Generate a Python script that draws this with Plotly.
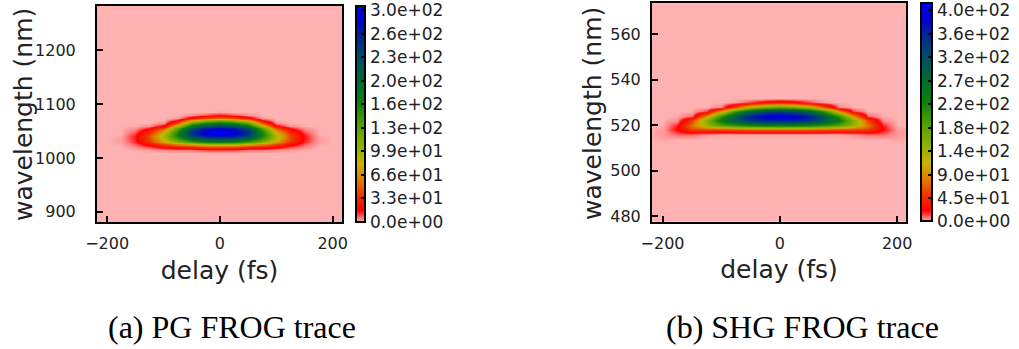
import plotly.graph_objects as go

# ---------------- data ----------------
# (a) PG FROG trace: rows = wavelength (nm), columns = delay (fs)
pg_delay = [-250, -200, -175, -150, -125, -100, -75, -50, -25, 0, 25, 50, 75, 100, 125, 150, 175, 200, 250]
pg_wavelength = [850, 1010, 1015, 1020, 1025, 1030, 1035, 1040, 1045, 1050, 1055,
                 1060, 1065, 1070, 1075, 1080, 1085, 1090, 1300]
pg_row_850 = [0] * 19
pg_row_1010 = [0] * 19
pg_row_1015 = [0, 0, 0, 0.4, 1.4, 3.2, 4.8, 4.8, 10, 10.4, 10, 4.8, 4.8, 3.2, 1.4, 0.4, 0, 0, 0]
pg_row_1020 = [0, 0, 0, 3.2, 9.4, 19, 26.5, 31, 43, 44, 43, 31, 26.5, 19, 9.4, 3.2, 0, 0, 0]
pg_row_1025 = [0, 0, 0.6, 7.7, 23, 45, 65, 80, 99, 101, 99, 80, 65, 45, 23, 7.7, 0.6, 0, 0]
pg_row_1030 = [0, 0, 1.3, 11.7, 36, 71, 108, 140, 164, 167, 164, 140, 108, 71, 36, 11.7, 1.3, 0, 0]
pg_row_1035 = [0, 0, 1.3, 13.7, 43, 89, 144, 195, 223, 228, 223, 195, 144, 89, 43, 13.7, 1.3, 0, 0]
pg_row_1040 = [0, 0, 0.8, 13.5, 44.5, 95, 164, 233, 264, 271, 264, 233, 164, 95, 44.5, 13.5, 0.8, 0, 0]
pg_row_1045 = [0, 0, 0, 11, 39, 89, 169, 252, 286, 295, 286, 252, 169, 89, 39, 11, 0, 0, 0]
pg_row_1050 = [0, 0, 0, 6.8, 28, 71, 158, 250, 286, 296, 286, 250, 158, 71, 28, 6.8, 0, 0, 0]
pg_row_1055 = [0, 0, 0, 2.4, 14, 45, 131, 226, 264, 278, 264, 226, 131, 45, 14, 2.4, 0, 0, 0]
pg_row_1060 = [0, 0, 0, 0.2, 3.3, 19, 91, 185, 223, 238, 223, 185, 91, 19, 3.3, 0.2, 0, 0, 0]
pg_row_1065 = [0, 0, 0, 0, 0, 3.2, 48, 128, 164, 180, 164, 128, 48, 3.2, 0, 0, 0, 0, 0]
pg_row_1070 = [0, 0, 0, 0, 0, 0, 15, 69, 99, 114, 99, 69, 15, 0, 0, 0, 0, 0, 0]
pg_row_1075 = [0, 0, 0, 0, 0, 0, 1.7, 23, 43, 53, 43, 23, 1.7, 0, 0, 0, 0, 0, 0]
pg_row_1080 = [0, 0, 0, 0, 0, 0, 0, 3, 10, 15, 10, 3, 0, 0, 0, 0, 0, 0, 0]
pg_row_1085 = [0, 0, 0, 0, 0, 0, 0, 0, 0, 0.7, 0, 0, 0, 0, 0, 0, 0, 0, 0]
pg_row_1090 = [0] * 19
pg_row_1300 = [0] * 19
pg_cbar_ticks = [0, 33, 66, 99, 132, 165, 198, 231, 264, 297]
pg_cbar_text = ["0.0e+00", "3.3e+01", "6.6e+01", "9.9e+01", "1.3e+02",
                "1.6e+02", "2.0e+02", "2.3e+02", "2.6e+02", "3.0e+02"]

# (b) SHG FROG trace
shg_delay = [-250, -225, -200, -175, -150, -125, -100, -75, -50, -25, 0,
             25, 50, 75, 100, 125, 150, 175, 200, 225, 250]
shg_wavelength = [470, 512, 514, 516, 518, 520, 522, 524, 526, 528, 530, 532, 580]
shg_row_470 = [0] * 21
shg_row_512 = [0] * 21
shg_row_514 = [0, 0, 1.2, 0, 0, 0, 0, 0, 0, 0, 0, 0, 0, 0, 0, 0, 0, 0, 1.2, 0, 0]
shg_row_516 = [0, 0, 3, 9, 10, 2.6, 1.0, 1.0, 1.0, 1.0, 1.0, 1.0, 1.0, 1.0, 1.0, 2.6, 10, 9, 3, 0, 0]
shg_row_518 = [0, 0, 2.2, 23, 57, 62, 60, 67, 71, 73, 73, 73, 71, 67, 60, 62, 57, 23, 2.2, 0, 0]
shg_row_520 = [0, 0, 0.3, 18, 80, 141, 182, 208, 227, 235, 234, 235, 227, 208, 182, 141, 80, 18, 0.3, 0, 0]
shg_row_522 = [0, 0, 0, 4, 57, 156, 242, 303, 346, 362, 365, 362, 346, 303, 242, 156, 57, 4, 0, 0, 0]
shg_row_524 = [0, 0, 0, 0.5, 10, 98, 210, 303, 366, 394, 402, 394, 366, 303, 210, 98, 10, 0.5, 0, 0, 0]
shg_row_526 = [0, 0, 0, 0, 0, 16, 96, 208, 285, 322, 336, 322, 285, 208, 96, 16, 0, 0, 0, 0, 0]
shg_row_528 = [0, 0, 0, 0, 0, 0, 5, 67, 130, 167, 184, 167, 130, 67, 5, 0, 0, 0, 0, 0, 0]
shg_row_530 = [0, 0, 0, 0, 0, 0, 0, 1.5, 15, 28, 38, 28, 15, 1.5, 0, 0, 0, 0, 0, 0, 0]
shg_row_532 = [0] * 21
shg_row_580 = [0] * 21
shg_cbar_ticks = [0, 45, 90, 135, 180, 225, 270, 315, 360, 405]
shg_cbar_text = ["0.0e+00", "4.5e+01", "9.0e+01", "1.4e+02", "1.8e+02",
                 "2.2e+02", "2.7e+02", "3.2e+02", "3.6e+02", "4.0e+02"]

pg_z = [pg_row_850, pg_row_1010, pg_row_1015, pg_row_1020, pg_row_1025, pg_row_1030,
        pg_row_1035, pg_row_1040, pg_row_1045, pg_row_1050, pg_row_1055, pg_row_1060,
        pg_row_1065, pg_row_1070, pg_row_1075, pg_row_1080, pg_row_1085, pg_row_1090,
        pg_row_1300]
shg_z = [shg_row_470, shg_row_512, shg_row_514, shg_row_516, shg_row_518, shg_row_520,
         shg_row_522, shg_row_524, shg_row_526, shg_row_528, shg_row_530, shg_row_532,
         shg_row_580]

# ---------------- styling ----------------
cscale = [
    [0.0, "#ffb2b2"], [0.004, "#ff9e9e"], [0.013, "#ff8a8a"], [0.025, "#ff6262"],
    [0.04, "#ff2a2a"], [0.055, "#ff0000"], [0.12, "#f03000"], [0.2, "#e08000"],
    [0.27, "#c8b400"], [0.35, "#90b000"], [0.45, "#50a000"], [0.55, "#108010"],
    [0.65, "#006a30"], [0.75, "#005060"], [0.85, "#002a90"], [0.93, "#0000d0"],
    [1.0, "#0000ff"],
]
W, H = 1019, 349
FONT = "DejaVu Sans"
TXT = "#222222"


def px_x(p):
    return p / W


def px_y(p):
    return 1 - p / H


def cbar(x0, top, bot, thick, ticks, text):
    return dict(
        x=px_x(x0), xanchor="left", xpad=0,
        y=px_y((top + bot) / 2), yanchor="middle", ypad=0,
        lenmode="pixels", len=bot - top, thickness=thick,
        outlinewidth=2, outlinecolor="black",
        tickmode="array", tickvals=ticks, ticktext=text,
        ticks="inside", ticklen=5, tickwidth=1.5, tickcolor="black",
        ticklabeloverflow="allow",
        tickfont=dict(family=FONT, size=17, color=TXT),
    )


fig = go.Figure()
fig.add_trace(go.Heatmap(
    x=pg_delay, y=pg_wavelength, z=pg_z, zsmooth="best",
    colorscale=cscale, zmin=0, zmax=303,
    colorbar=cbar(356, 6, 222, 9, pg_cbar_ticks, pg_cbar_text),
    xaxis="x", yaxis="y",
))
fig.add_trace(go.Heatmap(
    x=shg_delay, y=shg_wavelength, z=shg_z, zsmooth="best",
    colorscale=cscale, zmin=0, zmax=418,
    colorbar=cbar(921, 3.3, 221.7, 11, shg_cbar_ticks, shg_cbar_text),
    xaxis="x2", yaxis="y2",
))

axis_common = dict(
    showline=True, linewidth=2, linecolor="black", mirror=True,
    ticks="inside", ticklen=6, tickwidth=1.5, tickcolor="black",
    showgrid=False, zeroline=False, automargin=False,
    tickfont=dict(family=FONT, size=16, color=TXT),
    title_font=dict(family=FONT, size=25, color=TXT),
)

title_font = dict(family=FONT, size=25, color=TXT)
caption_font = dict(family="Liberation Serif", size=32, color="black")


def note(text, x, y, angle=0, font=title_font):
    return dict(text=text, x=px_x(x), y=px_y(y), xref="paper", yref="paper",
                xanchor="center", yanchor="middle", showarrow=False,
                textangle=angle, font=font)


fig.update_layout(
    width=W, height=H, margin=dict(l=0, r=0, t=0, b=0, autoexpand=False),
    paper_bgcolor="white", plot_bgcolor="#ffb2b2",
    showlegend=False,
    xaxis=dict(axis_common, domain=[px_x(97), px_x(342)], range=[-218, 216.5],
               tickvals=[-200, 0, 200], anchor="y",
               title=dict(text="delay (fs)", standoff=9), ticklabelstandoff=6),
    yaxis=dict(axis_common, domain=[px_y(222), px_y(6)], range=[881, 1282],
               tickvals=[900, 1000, 1100, 1200], anchor="x", ticklabelstandoff=16),
    xaxis2=dict(axis_common, domain=[px_x(652), px_x(906)], range=[-218, 215],
                tickvals=[-200, 0, 200], anchor="y2",
                title=dict(text="delay (fs)", standoff=9), ticklabelstandoff=6),
    yaxis2=dict(axis_common, domain=[px_y(221.7), px_y(3.3)], range=[477.5, 573.7],
                tickvals=[480, 500, 520, 540, 560], anchor="x2", ticklabelstandoff=6),
    annotations=[
        note("wavelength (nm)", 23, 115, angle=-90),
        note("wavelength (nm)", 592, 114, angle=-90),
        note("(a) PG FROG trace", 231.5, 327, font=caption_font),
        note("(b) SHG FROG trace", 802, 327, font=caption_font),
    ],
)

fig.write_html("out.html")
